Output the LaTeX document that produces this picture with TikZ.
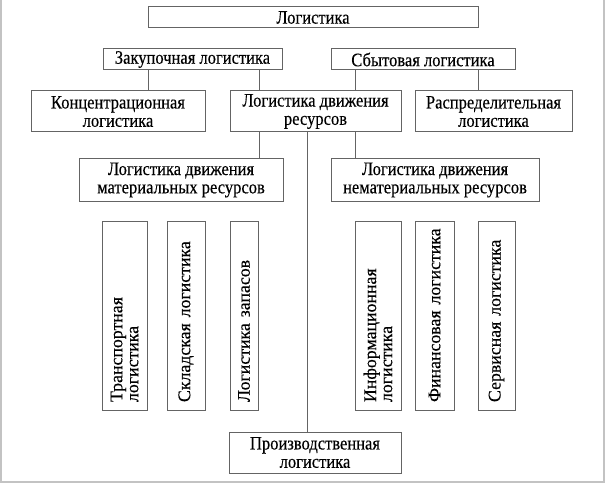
\documentclass[tikz,border=0pt]{standalone}
\usepackage{fontspec}
\setmainfont{Liberation Serif}
\newfontfamily\diagfont{Liberation Serif}[FakeStretch=0.87,FakeBold=0.3]
\newfontfamily\vertfont{Liberation Serif}[FakeBold=0.3]
\definecolor{linegray}{RGB}{100,100,100}
\definecolor{framegray}{RGB}{195,195,195}
\begin{document}
\begin{tikzpicture}[x=1pt,y=-1pt,
  box/.style={draw=linegray, line width=1pt, inner sep=0pt, align=center,
    font=\diagfont\fontsize{19}{18.3}\selectfont},
  vbox/.style={draw=linegray, line width=1pt, rotate=90, align=left,
    inner xsep=3pt, inner ysep=0pt, text width=183pt, minimum height=#1,
    font=\vertfont\fontsize{17.8}{16}\selectfont,
    execute at begin node={\leftskip=5pt\relax}},
  conn/.style={draw=linegray, line width=1pt}]
\useasboundingbox (0,0) rectangle (605,484);
\fill[white] (0,0) rectangle (605,484);
\draw[framegray, line width=1.5pt] (1,0) -- (1,482) -- (604,482) -- (604,0);
% boxes
\node[box, minimum width=330pt, minimum height=21pt] (log) at (313,17.5) {Логистика};
\node[box, minimum width=179pt, minimum height=21pt] (zak) at (192.5,59.5) {Закупочная логистика};
\node[box, minimum width=184pt, minimum height=21pt] (sbyt) at (423,59.5) {Сбытовая логистика};
\node[box, minimum width=174pt, minimum height=41pt] (konc) at (118,111.5) {Концентрационная\\логистика};
\node[box, minimum width=171pt, minimum height=41pt] (ldr) at (315.5,111.5) {Логистика движения\\ресурсов};
\node[box, minimum width=157pt, minimum height=41pt] (rasp) at (493.5,111.5) {Распределительная\\логистика};
\node[box, minimum width=204pt, minimum height=42pt] (mat) at (181,180) {Логистика движения\\материальных ресурсов};
\node[box, minimum width=208pt, minimum height=42pt] (nemat) at (435,180) {Логистика движения\\нематериальных ресурсов};
\node[vbox=45pt] (trans) at (124.5,315.5) {Транспортная\\логистика};
\node[vbox=38pt] (sklad) at (186,315.5) {Складская логистика};
\node[vbox=28pt] (zapas) at (244,315.5) {Логистика запасов};
\node[vbox=46pt] (info) at (378,315.5) {Информационная\\логистика};
\node[vbox=39pt] (fin) at (434.5,315.5) {Финансовая логистика};
\node[vbox=37pt] (serv) at (496.5,315.5) {Сервисная логистика};
\node[box, minimum width=172pt, minimum height=41pt] (proizv) at (315,452.5) {Производственная\\логистика};
% connector positions
\coordinate (xa) at (148,0);
\coordinate (xb) at (259,0);
\coordinate (xc) at (355,0);
\coordinate (xd) at (478,0);
\coordinate (xe) at (307,0);
% connectors
\draw[conn] (zak.south -| xa) -- (konc.north -| xa);
\draw[conn] (zak.south -| xb) -- (ldr.north -| xb);
\draw[conn] (sbyt.south -| xc) -- (ldr.north -| xc);
\draw[conn] (sbyt.south -| xd) -- (rasp.north -| xd);
\draw[conn] (ldr.south -| xb) -- (mat.north -| xb);
\draw[conn] (ldr.south -| xc) -- (nemat.north -| xc);
\draw[conn] (ldr.south -| xe) -- (proizv.north -| xe);
\end{tikzpicture}
\end{document}
